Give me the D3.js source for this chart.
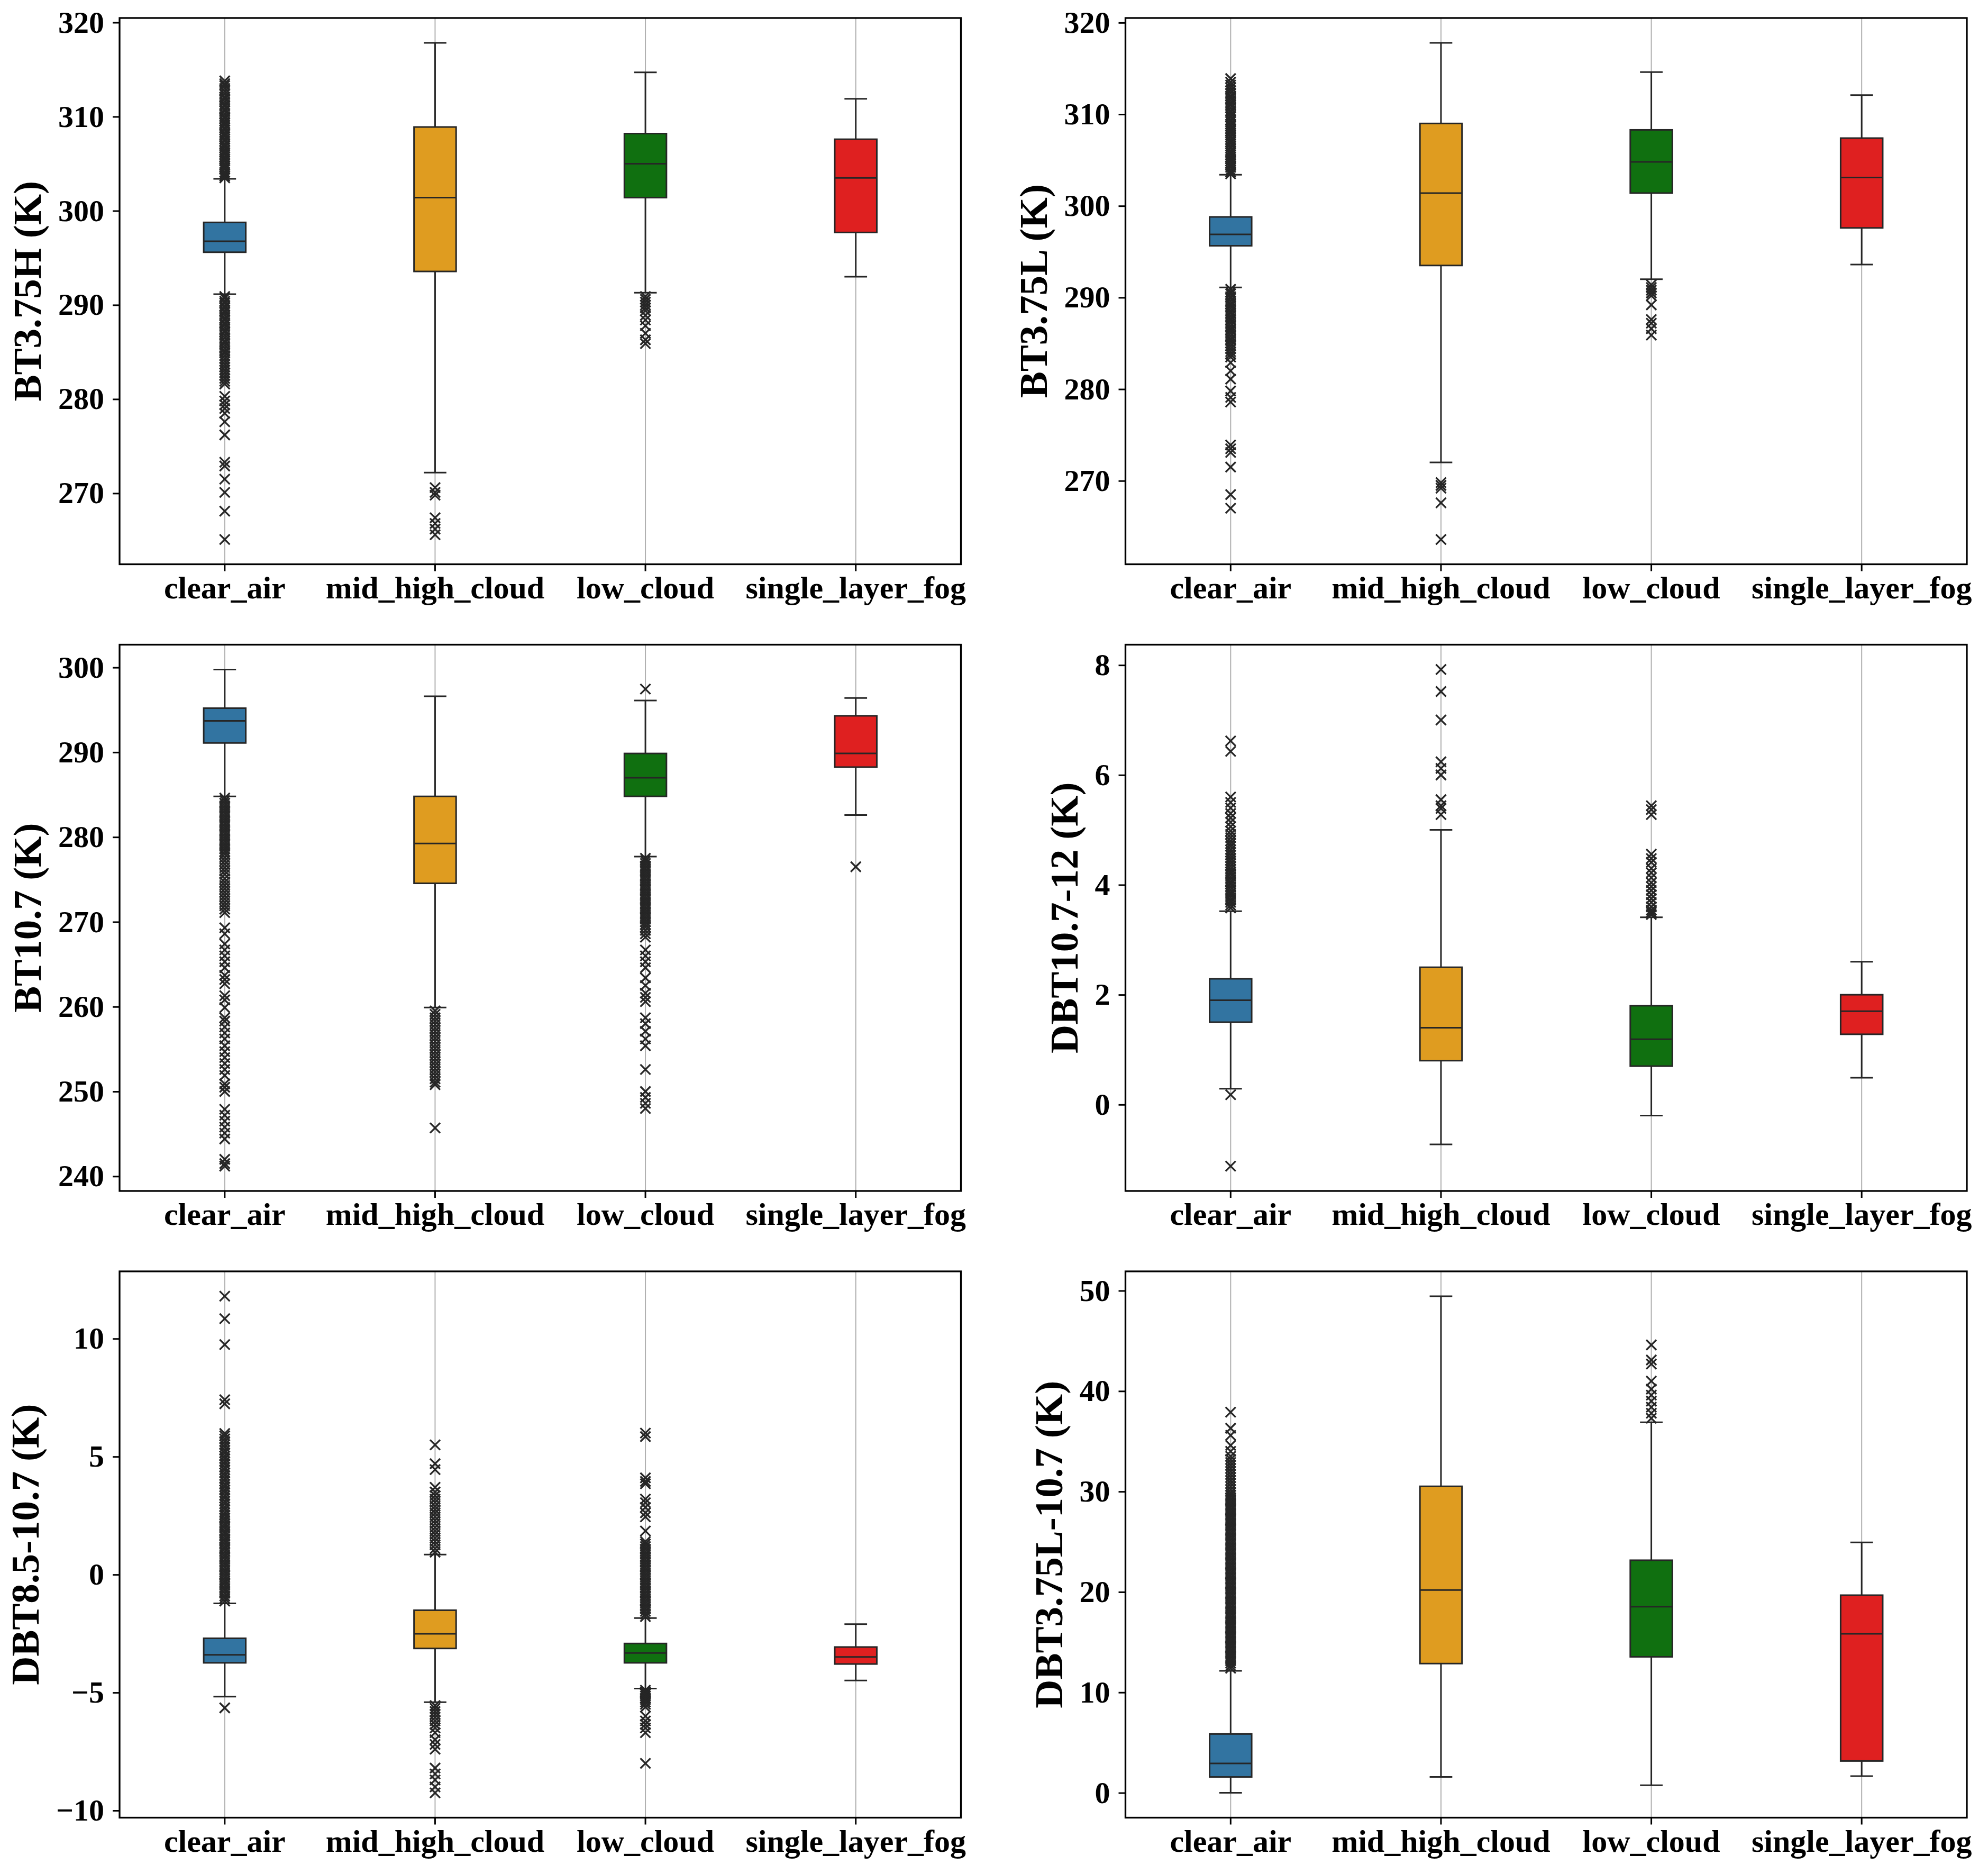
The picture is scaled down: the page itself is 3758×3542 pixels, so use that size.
<!DOCTYPE html>
<html><head><meta charset="utf-8">
<script src="https://cdn.jsdelivr.net/npm/d3@7"></script>
<style>body{margin:0;background:#fff}svg{display:block}</style>
</head><body><div id="chart"></div>
<script>
// ---------- DATA ----------
const categories = ["clear_air", "mid_high_cloud", "low_cloud", "single_layer_fog"];
const boxColors = ["#3274a1", "#df9c20", "#107010", "#df2020"];
const yLabels = ["BT3.75H (K)", "BT3.75L (K)", "BT10.7 (K)", "DBT10.7-12 (K)", "DBT8.5-10.7 (K)", "DBT3.75L-10.7 (K)"];

// stats per category: [whisker low, Q1, median, Q3, whisker high]
const bt375hStats = [[291.15, 295.6, 296.77, 298.77, 303.4], [272.2, 293.56, 301.4, 308.9, 317.84], [291.3, 301.4, 305.0, 308.2, 314.7], [293.0, 297.7, 303.5, 307.6, 311.9]];
const bt375lStats = [[291.1, 295.65, 296.9, 298.8, 303.4], [272.0, 293.5, 301.4, 309.0, 317.8], [292.0, 301.4, 304.8, 308.3, 314.6], [293.6, 297.6, 303.1, 307.4, 312.1]];
const bt107Stats = [[284.8, 291.1, 293.7, 295.2, 299.76], [259.9, 274.55, 279.25, 284.8, 296.6], [277.7, 284.8, 287.0, 289.86, 296.1], [282.6, 288.25, 289.86, 294.3, 296.4]];
const dbt10712Stats = [[0.29, 1.50, 1.90, 2.29, 3.52], [-0.725, 0.80, 1.40, 2.50, 5.0], [-0.20, 0.70, 1.19, 1.80, 3.41], [0.49, 1.28, 1.70, 2.0, 2.60]];
const dbt85107Stats = [[-5.17, -3.74, -3.40, -2.70, -1.22], [-5.41, -3.13, -2.51, -1.51, 0.85], [-4.83, -3.74, -3.32, -2.92, -1.84], [-4.49, -3.79, -3.49, -3.07, -2.10]];
const dbt375l107Stats = [[0.0, 1.58, 2.93, 5.86, 12.15], [1.58, 12.87, 20.19, 30.52, 49.45], [0.75, 13.54, 18.53, 23.16, 36.9], [1.66, 3.17, 15.84, 19.68, 24.94]];

// outliers per category
const bt375hFliers = [
  [303.5, 303.7, 303.9, 304.1, 304.4, 304.6, 304.8, 305.0, 305.3, 305.5, 305.7, 306.0, 306.2, 306.4, 306.7, 306.9, 307.1, 307.4, 307.6, 307.9, 308.1, 308.3, 308.6, 308.8, 309.1, 309.3, 309.5, 309.8, 310.0, 310.3, 310.6, 310.8, 311.1, 311.3, 311.6, 311.9, 312.1, 312.4, 312.7, 313.0, 313.3, 313.5, 313.8,
   290.9, 290.7, 290.4, 290.2, 289.9, 289.7, 289.4, 289.2, 288.9, 288.6, 288.4, 288.1, 287.9, 287.6, 287.3, 287.1, 286.8, 286.5, 286.2, 286.0, 285.7, 285.4, 285.1, 284.9, 284.6, 284.3, 284.0, 283.7, 283.4, 283.1, 282.8, 282.5, 282.2, 281.9, 281.6,
   280.3, 279.8, 279.4, 279.0, 278.5, 277.6, 276.2, 273.3, 272.9, 271.5, 270.1, 268.1, 265.1],
  [270.6, 270.1, 269.8, 267.4, 266.8, 266.2, 265.6],
  [290.9, 290.6, 290.3, 290.0, 289.7, 289.4, 288.9, 288.4, 287.8, 287.0, 286.3, 285.9],
  []
];
const bt375lFliers = [
  [303.5, 303.7, 303.9, 304.2, 304.4, 304.6, 304.9, 305.1, 305.3, 305.6, 305.8, 306.0, 306.3, 306.5, 306.8, 307.0, 307.2, 307.5, 307.7, 308.0, 308.2, 308.4, 308.7, 308.9, 309.2, 309.4, 309.7, 309.9, 310.2, 310.4, 310.7, 311.0, 311.2, 311.5, 311.8, 312.0, 312.3, 312.6, 312.9, 313.2, 313.5, 313.9,
   290.9, 290.6, 290.4, 290.1, 289.9, 289.6, 289.3, 289.1, 288.8, 288.5, 288.3, 288.0, 287.7, 287.5, 287.2, 286.9, 286.6, 286.4, 286.1, 285.8, 285.5, 285.3, 285.0, 284.7, 284.4, 284.1, 283.8, 283.5,
   282.9, 282.0, 281.1, 279.8, 279.1, 278.6, 273.9, 273.5, 273.1, 271.5, 268.5, 267.0],
  [269.8, 269.5, 269.2, 267.6, 263.6],
  [291.4, 291.1, 290.8, 290.5, 290.2, 289.2, 287.6, 287.2, 286.6, 285.9],
  []
];
const bt107Fliers = [
  [284.6, 284.3, 284.0, 283.7, 283.4, 283.1, 282.8, 282.5, 282.2, 281.9, 281.6, 281.3, 281.0, 280.7, 280.4, 280.1, 279.8, 279.5, 279.2, 278.9, 278.6, 278.3, 278.0, 277.6, 277.2, 276.8, 276.4, 276.0, 275.6, 275.1, 274.7, 274.3, 273.9, 273.5, 273.1, 272.7, 272.3, 271.9, 271.5, 271.1,
   269.3, 268.6, 267.4, 266.7, 266.0, 265.3, 264.6, 263.7, 263.2, 262.7, 261.3, 260.8, 259.9, 258.7, 258.3, 257.6, 256.9, 256.2, 255.4, 254.7, 254.0, 253.3, 252.6, 251.9, 250.9, 250.5, 250.0, 247.9, 247.2, 246.5, 245.8, 245.1, 244.4, 242.0, 241.5, 241.2],
  [259.5, 259.1, 258.7, 258.3, 257.9, 257.5, 257.1, 256.7, 256.3, 255.9, 255.5, 255.1, 254.7, 254.3, 253.9, 253.5, 253.1, 252.7, 252.3, 251.9, 251.5, 251.1, 250.8, 245.7],
  [297.45, 277.5, 277.2, 276.9, 276.6, 276.3, 276.0, 275.7, 275.4, 275.1, 274.8, 274.5, 274.2, 273.9, 273.6, 273.3, 273.0, 272.7, 272.4, 272.1, 271.8, 271.5, 271.2, 270.9, 270.6, 270.3, 270.0, 269.7, 269.4, 269.0, 268.6, 268.2,
   266.7, 266.0, 265.3, 264.6, 263.4, 262.5, 261.6, 261.1, 260.6, 258.7, 258.0, 257.1, 256.2, 255.4, 252.6, 250.0, 249.3, 248.6, 248.0],
  [276.5]
];
const dbt10712Fliers = [
  [3.58, 3.63, 3.68, 3.72, 3.77, 3.82, 3.86, 3.91, 3.96, 4.01, 4.05, 4.10, 4.15, 4.20, 4.24, 4.29, 4.34, 4.39, 4.44, 4.49, 4.54, 4.59, 4.64, 4.70, 4.75, 4.80, 4.86, 4.92, 4.98, 5.06, 5.14, 5.22, 5.30, 5.40, 5.50, 5.60, 6.43, 6.62, 0.18, -1.12],
  [5.28, 5.39, 5.44, 5.55, 6.0, 6.12, 6.24, 7.0, 7.52, 7.92],
  [3.46, 3.50, 3.54, 3.60, 3.68, 3.75, 3.82, 3.90, 3.97, 4.04, 4.13, 4.22, 4.30, 4.41, 4.48, 4.56, 5.28, 5.37, 5.44],
  []
];
const dbt85107Fliers = [
  [-1.12, -1.01, -0.91, -0.79, -0.68, -0.58, -0.46, -0.35, -0.25, -0.13, -0.02, 0.09, 0.19, 0.31, 0.42, 0.52, 0.64, 0.75, 0.85, 0.97, 1.08, 1.18, 1.30, 1.41, 1.51, 1.63, 1.74, 1.84, 1.96, 2.07, 2.17, 2.29, 2.40, 2.52, 2.63, 2.76, 2.87, 3.00, 3.11, 3.24, 3.35, 3.48, 3.59, 3.72, 3.83, 3.96, 4.07, 4.20, 4.31, 4.44, 4.55, 4.68, 4.79, 4.92, 5.03, 5.16, 5.27, 5.40, 5.51, 5.64, 5.75, 5.88, 5.98,
   7.24, 7.41, 9.75, 10.85, 11.80, -5.65],
  [0.95, 1.10, 1.26, 1.40, 1.55, 1.71, 1.85, 2.00, 2.16, 2.30, 2.45, 2.61, 2.75, 2.90, 3.06, 3.20, 3.35, 3.50, 3.70, 4.45, 4.70, 5.50,
   -5.55, -5.67, -5.80, -5.92, -6.05, -6.20, -6.35, -6.50, -6.70, -7.00, -7.20, -7.40, -8.20, -8.45, -8.70, -9.00, -9.25],
  [-1.78, -1.67, -1.56, -1.45, -1.34, -1.23, -1.12, -1.01, -0.90, -0.79, -0.68, -0.57, -0.46, -0.35, -0.24, -0.13, -0.02, 0.09, 0.20, 0.31, 0.42, 0.53, 0.64, 0.75, 0.86, 0.97, 1.08, 1.19, 1.30, 1.40, 1.85, 2.45, 2.62, 2.85, 3.05, 3.20, 3.85, 3.95, 4.10, 5.85, 6.00,
   -4.90, -4.98, -5.06, -5.14, -5.22, -5.30, -5.40, -5.50, -5.62, -6.00, -6.20, -6.35, -6.50, -6.70, -8.00],
  []
];
const dbt375l107Fliers = [
  [12.4, 12.65, 12.9, 13.15, 13.4, 13.65, 13.9, 14.15, 14.4, 14.65, 14.9, 15.15, 15.4, 15.65, 15.9, 16.15, 16.4, 16.65, 16.9, 17.15, 17.4, 17.65, 17.9, 18.15, 18.4, 18.65, 18.9, 19.15, 19.4, 19.65, 19.9, 20.15, 20.4, 20.65, 20.9, 21.15, 21.4, 21.65, 21.9, 22.15, 22.4, 22.65, 22.9, 23.15, 23.4, 23.65, 23.9, 24.15, 24.4, 24.65, 24.9, 25.15, 25.4, 25.65, 25.9, 26.15, 26.4, 26.65, 26.9, 27.15, 27.4, 27.65, 27.9, 28.15, 28.4, 28.65, 28.9, 29.15, 29.4, 29.65, 29.9, 30.2, 30.5, 30.8, 31.1, 31.4, 31.7, 32.0, 32.3, 32.6, 32.9, 33.2, 33.5, 34.0, 34.6, 35.6, 36.3, 37.9],
  [],
  [37.3, 37.8, 38.4, 39.0, 39.6, 40.2, 41.0, 42.7, 43.1, 44.6],
  []
];

// y tick labels
const bt375hTicks = [270, 280, 290, 300, 310, 320];
const bt375lTicks = [270, 280, 290, 300, 310, 320];
const bt107Ticks = [240, 250, 260, 270, 280, 290, 300];
const dbt10712Ticks = [0, 2, 4, 6, 8];
const dbt85107Ticks = [-10, -5, 0, 5, 10];
const dbt375l107Ticks = [0, 10, 20, 30, 40, 50];

// ---------- LAYOUT ----------
const W = 3758, H = 3542;
const colLeft = [226, 2127.5], axW = 1590.5;
const rowTop = [34, 1218.5, 2403], axH = 1032.5;
const edge = "#262626";
const FONT = "'Liberation Serif','Times New Roman',Times,serif";

const panels = [
  {label: yLabels[0], stats: bt375hStats, fliers: bt375hFliers, ticks: bt375hTicks},
  {label: yLabels[1], stats: bt375lStats, fliers: bt375lFliers, ticks: bt375lTicks},
  {label: yLabels[2], stats: bt107Stats, fliers: bt107Fliers, ticks: bt107Ticks},
  {label: yLabels[3], stats: dbt10712Stats, fliers: dbt10712Fliers, ticks: dbt10712Ticks},
  {label: yLabels[4], stats: dbt85107Stats, fliers: dbt85107Fliers, ticks: dbt85107Ticks},
  {label: yLabels[5], stats: dbt375l107Stats, fliers: dbt375l107Fliers, ticks: dbt375l107Ticks}
];

const svg = d3.select("#chart").append("svg")
  .attr("width", W).attr("height", H)
  .attr("viewBox", `0 0 ${W} ${H}`)
  .style("background", "#fff");

const fmt = v => (v < 0 ? "\u2212" + Math.abs(v) : String(v));

panels.forEach((p, i) => {
  const left = colLeft[i % 2], top = rowTop[Math.floor(i / 2)];
  const all = p.stats.flat().concat(p.fliers.flat());
  const mn = d3.min(all), mx = d3.max(all), pad = (mx - mn) * 0.05;
  const y = d3.scaleLinear().domain([mn - pad, mx + pad]).range([top + axH, top]);
  const x = d3.scaleBand().domain(categories).range([left, left + axW]).paddingInner(0).paddingOuter(0);
  const bw = x.bandwidth();
  const cx = c => x(c) + bw / 2;
  const g = svg.append("g");

  // grid
  g.append("g").selectAll("line").data(categories).join("line")
    .attr("x1", cx).attr("x2", cx).attr("y1", top).attr("y2", top + axH)
    .attr("stroke", "#b0b0b0").attr("stroke-width", 2);

  const data = categories.map((c, k) => ({c, k, s: p.stats[k], f: p.fliers[k]}));
  const bx = g.append("g").selectAll("g").data(data).join("g");
  // whiskers
  bx.append("line").attr("x1", d => cx(d.c)).attr("x2", d => cx(d.c))
    .attr("y1", d => y(d.s[3])).attr("y2", d => y(d.s[4]))
    .attr("stroke", edge).attr("stroke-width", 3);
  bx.append("line").attr("x1", d => cx(d.c)).attr("x2", d => cx(d.c))
    .attr("y1", d => y(d.s[1])).attr("y2", d => y(d.s[0]))
    .attr("stroke", edge).attr("stroke-width", 3);
  // caps
  [0, 4].forEach(j => {
    bx.append("line").attr("x1", d => cx(d.c) - bw * 0.05).attr("x2", d => cx(d.c) + bw * 0.05)
      .attr("y1", d => y(d.s[j])).attr("y2", d => y(d.s[j]))
      .attr("stroke", edge).attr("stroke-width", 3).attr("stroke-linecap", "square");
  });
  // box
  bx.append("rect").attr("x", d => cx(d.c) - bw * 0.1).attr("width", bw * 0.2)
    .attr("y", d => y(d.s[3])).attr("height", d => y(d.s[1]) - y(d.s[3]))
    .attr("fill", d => boxColors[d.k]).attr("stroke", edge).attr("stroke-width", 3);
  // median
  bx.append("line").attr("x1", d => cx(d.c) - bw * 0.1).attr("x2", d => cx(d.c) + bw * 0.1)
    .attr("y1", d => y(d.s[2])).attr("y2", d => y(d.s[2]))
    .attr("stroke", edge).attr("stroke-width", 3);
  // fliers
  bx.each(function(d) {
    d3.select(this).selectAll("path.fl").data(d.f).join("path").attr("class", "fl")
      .attr("transform", v => `translate(${cx(d.c)},${y(v)})`)
      .attr("d", "M-9.5,-9.5L9.5,9.5M-9.5,9.5L9.5,-9.5")
      .attr("stroke", edge).attr("stroke-width", 3.3).attr("fill", "none");
  });

  // frame
  g.append("rect").attr("x", left).attr("y", top).attr("width", axW).attr("height", axH)
    .attr("fill", "none").attr("stroke", "#000").attr("stroke-width", 3.3);

  // y axis
  const ya = g.append("g").attr("transform", `translate(${left},0)`)
    .call(d3.axisLeft(y).tickValues(p.ticks).tickFormat(fmt).tickSize(13).tickPadding(16));
  ya.select(".domain").remove();
  ya.attr("font-size", 58).attr("font-family", FONT).attr("font-weight", "bold").attr("color", "#000");
  ya.selectAll(".tick line").attr("stroke-width", 3);
  let maxW = 0;
  ya.selectAll(".tick text").each(function() { maxW = Math.max(maxW, this.getBBox().width); });

  // x axis
  const xa = g.append("g").attr("transform", `translate(0,${top + axH})`)
    .call(d3.axisBottom(x).tickSize(13).tickPadding(8.5));
  xa.select(".domain").remove();
  xa.attr("font-size", 60).attr("font-family", FONT).attr("font-weight", "bold").attr("color", "#000");
  xa.selectAll(".tick line").attr("stroke-width", 3);

  // y label
  const lx = left - 29 - maxW - 16.7 - 16;
  g.append("text").attr("transform", `translate(${lx},${top + axH / 2}) rotate(-90)`)
    .attr("text-anchor", "middle").attr("font-family", FONT).attr("font-weight", "bold")
    .attr("font-size", 75).attr("fill", "#000").text(p.label);
});
</script>
</body></html>
